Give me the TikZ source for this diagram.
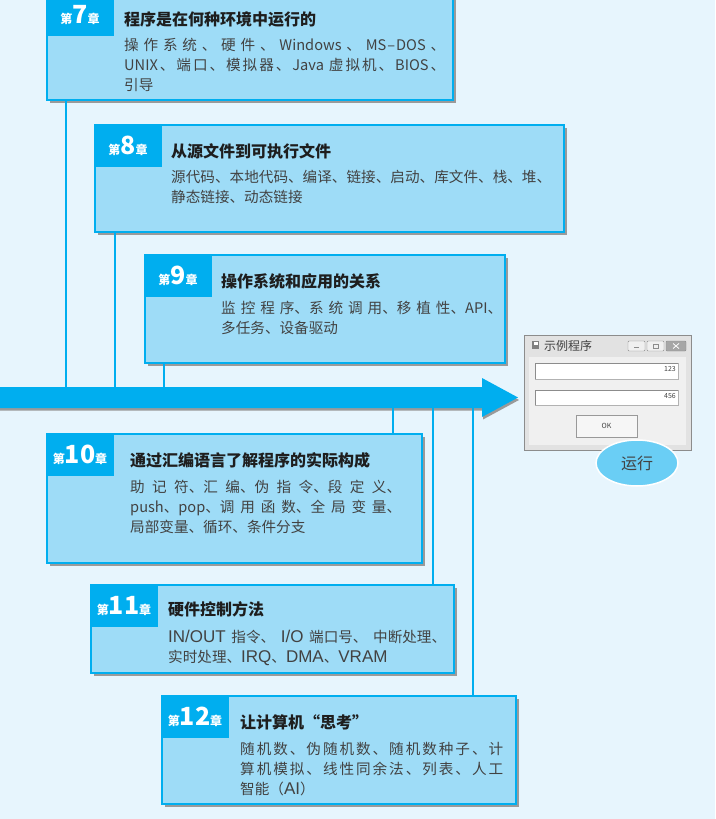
\documentclass[tikz,border=0pt]{standalone}
\usepackage{fontspec}
\setmainfont{Noto Sans CJK SC}
\newfontfamily\latf{Liberation Sans}
\usetikzlibrary{shapes.geometric,shadows}
\def\spreadend{\spreadend}
\def\spreadendtest{\spreadend}
\def\spreadit#1#2\spreadend{#1\spreadrest#2\spreadend}
\def\spreadrest#1{\def\sptmp{#1}\ifx\sptmp\spreadendtest\else\hskip0pt plus1fil\relax#1\expandafter\spreadrest\fi}
\newcommand\jline[2]{\hbox to #1pt{\spreadit#2\spreadend}}
\newcommand\lt[1]{{\latf\fontsize{17}{20}\selectfont #1}}
\definecolor{bgc}{HTML}{E7F5FD}
\definecolor{cy}{HTML}{00AEEF}
\definecolor{boxf}{HTML}{9EDCF7}
\definecolor{txt}{HTML}{424242}
\definecolor{ttl}{HTML}{1E1E1E}
\definecolor{shad}{HTML}{9A9A9A}
\definecolor{winf}{HTML}{E2E2E2}
\definecolor{winc}{HTML}{F0F0F0}
\definecolor{wind}{HTML}{8C8C8C}
\definecolor{ellf}{HTML}{6ACEF5}
\begin{document}
\begin{tikzpicture}[x=1pt,y=-1pt,
  chbox/.style={draw=cy, line width=1.5pt, fill=boxf, anchor=north west, inner sep=0pt,
    drop shadow={shadow xshift=3pt,shadow yshift=-3pt,fill=shad,opacity=1}},
  tabbox/.style={fill=cy, anchor=north west, inner sep=0pt, minimum width=68pt, minimum height=43pt},
  chno/.style={anchor=base, inner sep=0pt, text=white, font=\bfseries},
  ttlnode/.style={anchor=west, inner sep=0pt, text=ttl, font=\fontsize{16}{20}\selectfont\bfseries},
  bodyln/.style={anchor=base west, inner sep=0pt, text=txt, font=\fontsize{14.6}{20}\selectfont},
  stem/.style={draw=cy, line width=1.5pt},
]
\useasboundingbox (0,0) rectangle (715,819);
\clip (0,0) rectangle (715,819);
\fill[bgc] (0,0) rectangle (715,819);
\newcommand\chap[1]{{\fontsize{12}{11}\selectfont 第}{\fontsize{25}{24}\selectfont #1}{\fontsize{12}{11}\selectfont 章}}

% arrow
\coordinate (axtop) at (0,387);
\coordinate (axbot) at (0,408);
\fill[shad] (-5,389.5) -- (483,389.5) -- (483,380.5) -- (519,400) -- (483,419.5) -- (483,410.5) -- (-5,410.5) -- cycle;
\fill[cy] (-5,387) -- (482,387) -- (482,378) -- (518,397.5) -- (482,417) -- (482,408) -- (-5,408) -- cycle;

% boxes (upper)
\node[chbox, minimum width=406pt, minimum height=106pt] (b7) at (46,-7) {};
\node[chbox, minimum width=469pt, minimum height=107pt] (b8) at (94,124) {};
\node[chbox, minimum width=360pt, minimum height=108pt] (b9) at (144,254) {};
% boxes (lower)
\node[chbox, minimum width=375pt, minimum height=129pt] (b10) at (46,433) {};
\node[chbox, minimum width=363pt, minimum height=88pt] (b11) at (90,584) {};
\node[chbox, minimum width=354pt, minimum height=108pt] (b12) at (161,695) {};

% stems
\draw[stem] ([xshift=20pt]b7.south west) -- ([xshift=20pt]b7.south west |- axtop);
\draw[stem] ([xshift=21pt]b8.south west) -- ([xshift=21pt]b8.south west |- axtop);
\draw[stem] ([xshift=20pt]b9.south west) -- ([xshift=20pt]b9.south west |- axtop);
\draw[stem] ([xshift=347pt]b10.north west |- axbot) -- ([xshift=347pt]b10.north west);
\draw[stem] ([xshift=343pt]b11.north west |- axbot) -- ([xshift=343pt]b11.north west);
\draw[stem] ([xshift=312pt]b12.north west |- axbot) -- ([xshift=312pt]b12.north west);

% tabs
\node[tabbox] (k7) at (b7.north west) {};
\node[tabbox] (k8) at (b8.north west) {};
\node[tabbox] (k9) at (b9.north west) {};
\node[tabbox] (k10) at (b10.north west) {};
\node[tabbox] (k11) at (b11.north west) {};
\node[tabbox] (k12) at (b12.north west) {};
\node[chno] (n7) at ([xshift=34pt,yshift=12.5pt]k7.south west) {\chap{7}};
\node[chno] (n8) at ([xshift=34pt,yshift=12.5pt]k8.south west) {\chap{8}};
\node[chno] (n9) at ([xshift=34pt,yshift=12.5pt]k9.south west) {\chap{9}};
\node[chno] (n10) at ([xshift=34pt,yshift=12.5pt]k10.south west) {\chap{10}};
\node[chno] (n11) at ([xshift=34pt,yshift=12.5pt]k11.south west) {\chap{11}};
\node[chno] (n12) at ([xshift=34pt,yshift=12.5pt]k12.south west) {\chap{12}};

% chapter 7
\node[ttlnode] (h7) at (124,19) {程序是在何种环境中运行的};
\node[bodyln] (t7a) at (124,50.5) {\jline{321}{操作系统、硬件、{Windows}、{MS\kern1pt–\kern1pt DOS}、}};
\node[bodyln] (t7b) at (124,70.5) {\jline{321}{{UNIX}、端口、模拟器、{Java}{\kern3pt 虚}拟机、{BIOS}、}};
\node[bodyln] (t7c) at (124,90.5) {引导};
% chapter 8
\node[ttlnode] (h8) at (171,151) {从源文件到可执行文件};
\node[bodyln] (t8a) at (171,182.5) {\jline{380}{源代码、本地代码、编译、链接、启动、库文件、栈、堆、}};
\node[bodyln] (t8b) at (171,202.5) {静态链接、动态链接};
% chapter 9
\node[ttlnode] (h9) at (221,281) {操作系统和应用的关系};
\node[bodyln] (t9a) at (221,313.5) {\jline{281}{监控程{序、系}统调{用、移}植{性、API、}}};
\node[bodyln] (t9b) at (221,333) {多任务、设备驱动};
% chapter 10
\node[ttlnode] (h10) at (130,460) {通过汇编语言了解程序的实际构成};
\node[bodyln] (t10a) at (130,492.5) {\jline{271}{助记{符、汇}{编、伪}指{令、段}定{义、}}};
\node[bodyln] (t10b) at (130,512.5) {\jline{271}{{push、pop、调}用函{数、全}局变{量、}}};
\node[bodyln] (t10c) at (130,532.5) {局部变量、循环、条件分支};
% chapter 11
\node[ttlnode] (h11) at (168,609) {硬件控制方法};
\node[bodyln] (t11a) at (168,642.5) {\jline{278}{{\lt{IN/OUT}}{指令、}{\lt{I/O}}{端口号、}{中断处理、}}};
\node[bodyln] (t11b) at (168,662) {实时处理、\lt{IRQ}、\lt{DMA}、\lt{VRAM}};
% chapter 12
\node[ttlnode] (h12) at (240,722) {让计算机“思考”};
\node[bodyln] (t12a) at (240,754.5) {\jline{263}{随机数、伪随机数、随机数种子、计}};
\node[bodyln] (t12b) at (240,774.5) {\jline{263}{算机模拟、线性同余法、列表、人工}};
\node[bodyln] (t12c) at (240,794) {智能（\lt{AI}）};

% window
\draw[wind, fill=winf] (524,335) rectangle (691,450);
\fill[winc] (529,357) rectangle (686,445);
\fill[gray] (532,341) rectangle (539,349);
\fill[white] (533.5,342) rectangle (537.5,345);
\node[anchor=west, inner sep=0pt, text=txt, font=\fontsize{12}{12}\selectfont] (wt) at (544,346) {示例程序};
\draw[wind, fill=winc, rounded corners=1pt] (628,341) rectangle (645,351);
\draw[wind, fill=winc, rounded corners=1pt] (647,341) rectangle (664,351);
\draw[wind, fill=gray!70, rounded corners=1pt] (666,341) rectangle (686,351);
\draw[wind] (634,347.5) -- (639,347.5);
\draw[wind] (653,344) rectangle (658,348.5);
\draw[white, line width=0.8pt] (673,343.5) -- (679,348.5) (673,348.5) -- (679,343.5);
\draw[gray!60, fill=white] (535,363) rectangle (678,379);
\draw[wind] (535,379) -- (535,363) -- (678,363);
\node[anchor=east, inner sep=0pt, font=\fontsize{7}{7}\selectfont, text=txt] (v1) at (676,369) {123};
\draw[gray!60, fill=white] (535,390) rectangle (678,405);
\draw[wind] (535,405) -- (535,390) -- (678,390);
\node[anchor=east, inner sep=0pt, font=\fontsize{7}{7}\selectfont, text=txt] (v2) at (676,396) {456};
\draw[gray!80, fill=winc!60!white] (576,415) rectangle (637,437);
\node[inner sep=0pt, font=\fontsize{7}{7}\selectfont, text=txt] (okb) at (606.5,426) {OK};

\node[ellipse, fill=ellf, draw=white, line width=1.5pt, minimum width=82pt, minimum height=46pt,
  inner sep=0pt, text=txt, font=\fontsize{16}{16}\selectfont] (run) at (637,463) {运行};
\end{tikzpicture}
\end{document}
